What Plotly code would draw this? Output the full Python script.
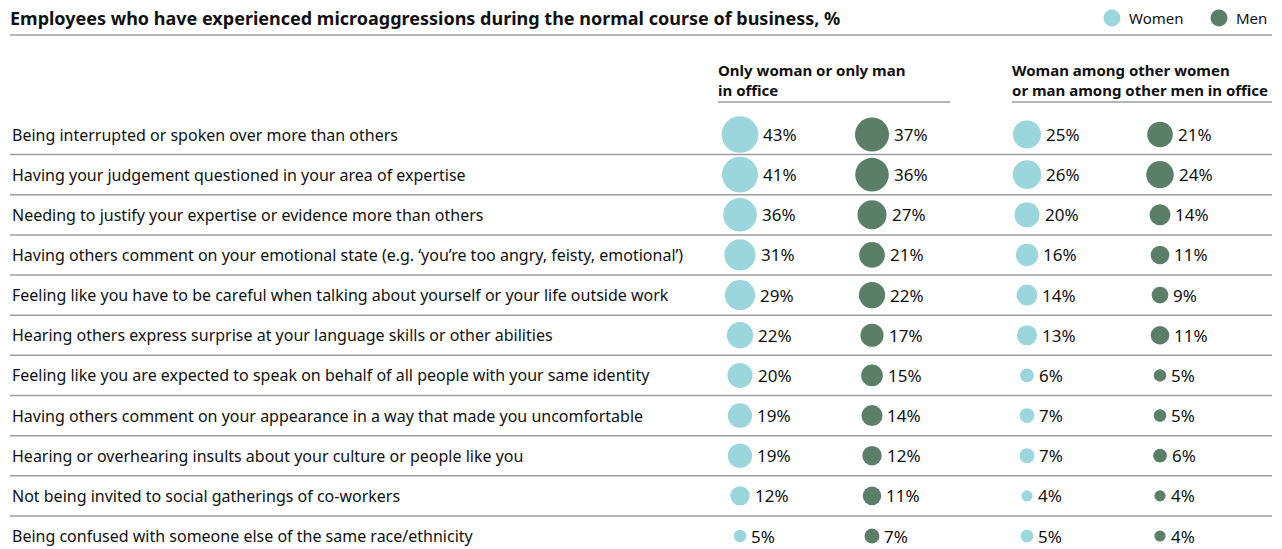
import math
import plotly.graph_objects as go

# Survey items (rows, top to bottom)
items = [
    "Being interrupted or spoken over more than others",
    "Having your judgement questioned in your area of expertise",
    "Needing to justify your expertise or evidence more than others",
    "Having others comment on your emotional state (e.g. \u2018you\u2019re too angry, feisty, emotional\u2019)",
    "Feeling like you have to be careful when talking about yourself or your life outside work",
    "Hearing others express surprise at your language skills or other abilities",
    "Feeling like you are expected to speak on behalf of all people with your same identity",
    "Having others comment on your appearance in a way that made you uncomfortable",
    "Hearing or overhearing insults about your culture or people like you",
    "Not being invited to social gatherings of co-workers",
    "Being confused with someone else of the same race/ethnicity",
]

# Share of employees (%) by office composition and gender
only_women = [43, 41, 36, 31, 29, 22, 20, 19, 19, 12, 5]
only_men = [37, 36, 27, 21, 22, 17, 15, 14, 12, 11, 7]
among_women = [25, 26, 20, 16, 14, 13, 6, 7, 7, 4, 5]
among_men = [21, 24, 14, 11, 9, 11, 5, 5, 6, 4, 4]

group_headers = [
    "Only woman or only man<br>in office",
    "Woman among other women<br>or man among other men in office",
]
legend_labels = ["Women", "Men"]

W, H = 1282, 549
WOMEN_COLOR = "#9ad6db"
MEN_COLOR = "#5b7e69"
LINE_COLOR = "#9c9c9c"
TEXT_COLOR = "#111111"
FONT = "Noto Sans"

# column centres on the pixel-scaled x axis
col_x = [740, 872, 1027, 1160]
series = [
    (only_women, WOMEN_COLOR),
    (only_men, MEN_COLOR),
    (among_women, WOMEN_COLOR),
    (among_men, MEN_COLOR),
]

SCALE = 5.6  # bubble diameter per sqrt(percent) -> area proportional to value


def diameter(v):
    return SCALE * math.sqrt(v)


def py(p):
    """pixel row (from top) -> paper y"""
    return 1 - p / H


fig = go.Figure()
annotations = []
shapes = []

for (vals, color), cx in zip(series, col_x):
    fig.add_trace(go.Scatter(
        x=[cx] * len(vals),
        y=items,
        mode="markers",
        marker=dict(size=[diameter(v) for v in vals], color=color,
                    line=dict(width=0), opacity=1),
        hoverinfo="skip",
        showlegend=False,
        cliponaxis=False,
    ))
    # value labels sit just right of each bubble
    for it, v in zip(items, vals):
        annotations.append(dict(
            x=cx, y=it, xref="x", yref="y", text=f"{v}%", showarrow=False,
            xanchor="left", yanchor="middle", xshift=diameter(v) / 2 + 3,
            font=dict(family=FONT, size=17, color=TEXT_COLOR),
        ))

# row labels
for it in items:
    annotations.append(dict(
        x=10, y=it, xref="x", yref="y", text=it, showarrow=False,
        xanchor="left", yanchor="middle",
        font=dict(family=FONT, size=16, color=TEXT_COLOR),
    ))

# separators between rows
for i in range(len(items) - 1):
    shapes.append(dict(
        type="line", xref="x", yref="y", x0=10, x1=1272, y0=i + 0.5, y1=i + 0.5,
        line=dict(color=LINE_COLOR, width=1.5),
    ))

# title and its rule
annotations.append(dict(
    x=8, y=py(18), xref="x", yref="paper",
    text="<b>Employees who have experienced microaggressions during the normal course of business, %</b>",
    showarrow=False, xanchor="left", yanchor="middle",
    font=dict(family=FONT, size=18, color=TEXT_COLOR),
))
shapes.append(dict(type="line", xref="x", yref="paper", x0=10, x1=1272,
                   y0=py(35), y1=py(35), line=dict(color=LINE_COLOR, width=1.5)))

# group headers
for txt, x0, x1 in zip(group_headers, [718, 1012], [950, 1272]):
    annotations.append(dict(
        x=x0 - 2, y=py(102), xref="x", yref="paper", text=f"<b>{txt}</b>",
        showarrow=False, xanchor="left", yanchor="bottom", align="left",
        font=dict(family=FONT, size=15, color=TEXT_COLOR),
    ))
    shapes.append(dict(type="line", xref="x", yref="paper", x0=x0, x1=x1,
                       y0=py(102), y1=py(102), line=dict(color=LINE_COLOR, width=1.5)))

# legend
for lbl, color, cx in zip(legend_labels, [WOMEN_COLOR, MEN_COLOR], [1112, 1219]):
    shapes.append(dict(type="circle", xref="x", yref="paper",
                       x0=cx - 8.5, x1=cx + 8.5, y0=py(26.5), y1=py(9.5),
                       fillcolor=color, line=dict(width=0)))
    annotations.append(dict(
        x=cx + 15, y=py(18), xref="x", yref="paper", text=lbl, showarrow=False,
        xanchor="left", yanchor="middle",
        font=dict(family=FONT, size=15, color=TEXT_COLOR),
    ))

# first row centre and row pitch, in pixels from the top
row0, step = 134.5, 40.15
fig.update_layout(
    width=W, height=H,
    margin=dict(l=0, r=0, t=0, b=0),
    paper_bgcolor="white", plot_bgcolor="white",
    xaxis=dict(range=[0, W], visible=False, fixedrange=True),
    yaxis=dict(type="category", categoryarray=items,
               range=[(H - row0) / step, -row0 / step],
               visible=False, fixedrange=True),
    annotations=annotations,
    shapes=shapes,
    showlegend=False,
)

fig.write_html("out.html")
